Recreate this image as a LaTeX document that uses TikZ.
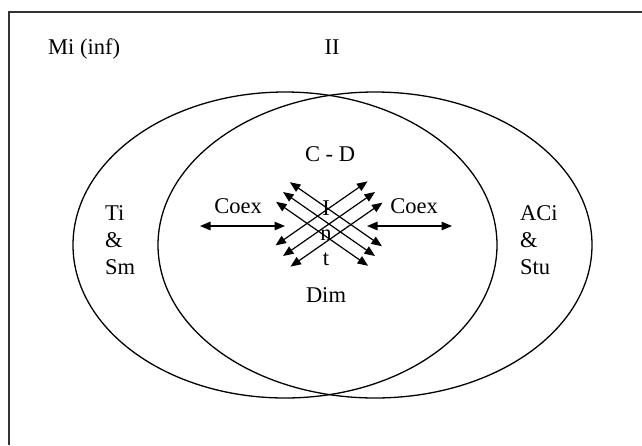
\documentclass[tikz,border=0pt]{standalone}
\usepackage{fontspec}
\setmainfont{Liberation Serif}
\usetikzlibrary{calc,arrows.meta}

\begin{document}
\begin{tikzpicture}[x=1pt,y=-1pt,
    txt/.style={inner sep=0pt,font=\fontsize{22.5}{27}\selectfont},
    dblarrow/.style={line width=1.2pt,{Triangle[length=10.5pt,width=8.5pt]}-{Triangle[length=10.5pt,width=8.5pt]}}]
        \useasboundingbox (0,0) rectangle (642,445);

        % frame, only its left and top sides are inside the page
        \draw[line width=1.5pt,black!80] (9,445) -- (9,12) -- (642,12);

        % the two sets
        \draw[line width=1.3pt] (285,245) ellipse (212 and 153);
        \draw[line width=1.3pt] (375,245) ellipse (217 and 153);

        \node[txt,anchor=base west] (mi) at (48,54) {Mi (inf)};
        \node[txt,anchor=base] (ii) at (332,54) {II};
        \node[txt,anchor=base] (cd) at (330,161) {C - D};

        \node[txt,anchor=north west,align=left] (tism) at (105,205) {Ti\\\&\\Sm};
        \node[txt,anchor=north west,align=left] (acis) at (520,205) {ACi\\\&\\Stu};

        \node[txt,anchor=base] (coexl) at (238,213) {Coex};
        \node[txt,anchor=base] (coexr) at (414,213) {Coex};

        % Coex arrows
        \coordinate (cl1) at (200,226);
        \coordinate (cl2) at (285,226);
        \coordinate (cr1) at (367,226);
        \coordinate (cr2) at (452,226);
        \draw[dblarrow] (cl1) -- (cl2);
        \draw[dblarrow] (cr1) -- (cr2);

        % the crossing arrows, three each way
        \coordinate (X) at (329,224);
        \foreach \k in {-1,0,1} {
            \coordinate (ne\k s) at ($(X)+(\k*7.5,\k*10.6)+(-46,32)$);
            \coordinate (ne\k e) at ($(X)+(\k*7.5,\k*10.6)+(46,-32)$);
            \coordinate (nw\k s) at ($(X)+(\k*-6.9,\k*9.8)+(-46,-32)$);
            \coordinate (nw\k e) at ($(X)+(\k*-6.9,\k*9.8)+(46,32)$);
            \draw[dblarrow] (ne\k s) -- (ne\k e);
            \draw[dblarrow] (nw\k s) -- (nw\k e);
        }

        \node[txt,anchor=north,align=center,font=\fontsize{22.5}{25}\selectfont] (int) at (326,201) {I\\n\\t};
        \node[txt,anchor=base] (dim) at (326,302) {Dim};

    \end{tikzpicture}
\end{document}
